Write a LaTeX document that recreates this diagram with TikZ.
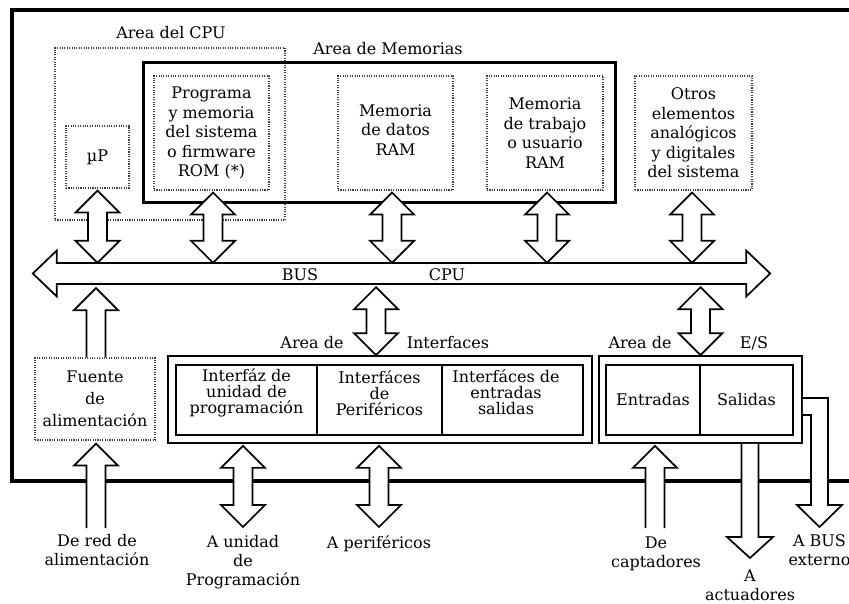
\documentclass[tikz,border=0pt]{standalone}
\usepackage{fontspec}
\setmainfont{DejaVu Serif}
\usetikzlibrary{calc}

% vertical block arrow with a head at both ends: #1 upper tip, #2 lower tip
\newcommand\vdarr[2]{\draw[blk] let \p1=#1, \p2=#2 in
  (\x1,\y1) -- (\x1+22pt,\y1-22pt) -- (\x1+9.5pt,\y1-22pt) -- (\x1+9.5pt,\y2+22pt)
  -- (\x1+22pt,\y2+22pt) -- (\x1,\y2) -- (\x1-22pt,\y2+22pt) -- (\x1-9.5pt,\y2+22pt)
  -- (\x1-9.5pt,\y1-22pt) -- (\x1-22pt,\y1-22pt) -- cycle;}
% upward block arrow: #1 tip, #2 open tail
\newcommand\uparr[2]{\draw[blk] let \p1=#1, \p2=#2 in
  (\x1-9.5pt,\y2) -- (\x1-9.5pt,\y1-22pt) -- (\x1-22pt,\y1-22pt) -- (\x1,\y1)
  -- (\x1+22pt,\y1-22pt) -- (\x1+9.5pt,\y1-22pt) -- (\x1+9.5pt,\y2);}
% downward block arrow: #1 open tail, #2 tip
\newcommand\dnarr[2]{\draw[blk] let \p1=#1, \p2=#2 in
  (\x2-8.5pt,\y1) -- (\x2-8.5pt,\y2+21pt) -- (\x2-23pt,\y2+21pt) -- (\x2,\y2)
  -- (\x2+23pt,\y2+21pt) -- (\x2+8.5pt,\y2+21pt) -- (\x2+8.5pt,\y1);}

\tikzset{
  every node/.style={font=\fontsize{16}{19.5}\selectfont},
  blk/.style={draw=black, line width=1.7pt, fill=white, line join=miter},
  dotbox/.style={draw=black!75, line width=1.1pt, dash pattern=on 1.1pt off 1.3pt,
    align=center, inner sep=0pt},
  cellbox/.style={draw=black, line width=1.7pt, align=center, inner sep=0pt},
  framebox/.style={draw=black, line width=1.7pt, inner sep=0pt},
  celltext/.style={align=center, inner sep=0pt, font=\fontsize{16}{16}\selectfont},
  lbl/.style={align=center, inner sep=0pt, font=\fontsize{16}{19}\selectfont},
}

\begin{document}
\begin{tikzpicture}[x=1pt,y=-1pt]
\useasboundingbox (0,0) rectangle (849,604);
\clip (0,0) rectangle (849,604);
\fill[white] (0,0) rectangle (849,604);

% outer frame of the system
\draw[line width=4pt] (12,10) rectangle (880,481);

% CPU area and memory area
\node[dotbox, minimum width=230pt, minimum height=172pt] (cpuarea) at (170,134) {};
\node (cpulbl) at (171,33) {Area del CPU};
\node[draw, line width=3pt, minimum width=472pt, minimum height=140pt, inner sep=0pt] (memarea) at (379,133) {};
\node (memlbl) at (388,49) {Area de Memorias};

% functional blocks
\node[dotbox, minimum width=63pt, minimum height=62pt] (mup) at (97.5,157) {µP};
\node[dotbox, minimum width=115pt, minimum height=114pt] (rom) at (211.5,133)
  {Programa\\y memoria\\del sistema\\o firmware\\ROM (*)};
\node[dotbox, minimum width=115pt, minimum height=114pt, text depth=6pt] (ramd) at (395.5,133)
  {Memoria\\de datos\\RAM};
\node[dotbox, minimum width=116pt, minimum height=114pt] (ramu) at (545,133)
  {Memoria\\de trabajo\\o usuario\\RAM};
\node[dotbox, minimum width=117pt, minimum height=114pt] (otros) at (693.5,133)
  {Otros\\elementos\\analógicos\\y digitales\\del sistema};

% system bus
\node[minimum width=737pt, minimum height=21pt, inner sep=0pt] (bus) at (401.5,273.5) {};
\draw[blk] let \p1=(bus.west), \p2=(bus.east) in
  (\x1,\y1) -- (\x1+24pt,\y1+23pt) -- (\x1+24pt,\y1+10.5pt) -- (\x2-24pt,\y2+10.5pt)
  -- (\x2-24pt,\y2+23pt) -- (\x2,\y2) -- (\x2-24pt,\y2-23pt) -- (\x2-24pt,\y2-10.5pt)
  -- (\x1+24pt,\y1-10.5pt) -- (\x1+24pt,\y1-23pt) -- cycle;
\node (buslbl) at (300,275) {BUS};
\node (cpulbl2) at (447,275) {CPU};

% links from the blocks to the bus
\vdarr{($(mup.south)+(0,2)$)}{(mup.south |- bus.north)}
\vdarr{($(rom.south)+(1.5,2)$)}{($(rom.south |- bus.north)+(1.5,0)$)}
\vdarr{($(ramd.south)+(-3.5,2)$)}{($(ramd.south |- bus.north)+(-3.5,0)$)}
\vdarr{($(ramu.south)+(2,2)$)}{($(ramu.south |- bus.north)+(2,0)$)}
\vdarr{($(otros.south)+(-1.5,2)$)}{($(otros.south |- bus.north)+(-1.5,0)$)}

% power supply
\node[dotbox, minimum width=120pt, minimum height=82pt, font=\fontsize{16}{22}\selectfont]
  (fuente) at (95,399) {Fuente\\de\\alimentación};
\uparr{($(fuente.north |- bus.south)+(1,4)$)}{($(fuente.north)+(1,0)$)}

% interface area
\node[framebox, minimum width=424pt, minimum height=87pt] (ifz) at (380,399.5) {};
\node[cellbox, minimum width=141pt, minimum height=70pt] (c1) at (246.5,400) {};
\node[cellbox, minimum width=125pt, minimum height=70pt] (c2) at (379.5,400) {};
\node[cellbox, minimum width=141pt, minimum height=70pt] (c3) at (512.5,400) {};
\node[celltext] (t1) at (246.5,393) {Interfáz de\\unidad de\\programación};
\node[celltext] (t2) at (379.5,393) {Interfáces\\de\\Periféricos};
\node[celltext] (t3) at (506,392) {Interfáces de\\entradas\\salidas};
\node (ifzlbl1) at (312,343) {Area de};
\node (ifzlbl2) at (448,343) {Interfaces};
\vdarr{($(bus.south -| ifz.north)+(-4,3)$)}{($(ifz.north)+(-4,0)$)}

% input/output area
\node[framebox, minimum width=203pt, minimum height=87pt] (es) at (700.5,399.5) {};
\node[cellbox, minimum width=94pt, minimum height=70pt] (ent) at (653,400) {Entradas};
\node[cellbox, minimum width=93pt, minimum height=70pt] (sal) at (746.5,400) {Salidas};
\node (eslbl1) at (640,343) {Area de};
\node (eslbl2) at (754,343) {E/S};
\vdarr{($(bus.south -| es.north)+(0,3)$)}{(es.north)}

% external connections
\node[lbl, anchor=north] (lred) at (97,534) {De red de\\alimentación};
\node[lbl, anchor=north] (lunid) at (243,535) {A unidad\\de\\Programación};
\node[lbl, anchor=north] (lper) at (379,535) {A periféricos};
\node[lbl, anchor=north] (lcap) at (656,537) {De\\captadores};
\node[lbl, anchor=north] (lact) at (750,570) {A\\actuadores};
\node[lbl, anchor=north] (lbus) at (819.5,534) {A BUS\\externo};

\uparr{($(fuente.south)+(1,3)$)}{($(lred.north)+(0,-6)$)}
\vdarr{($(lunid.north |- ifz.south)+(0,2)$)}{($(lunid.north)+(0,-8)$)}
\vdarr{($(lper.north |- ifz.south)+(0,2)$)}{($(lper.north)+(0,-8)$)}
\uparr{($(lcap.north |- es.south)+(-1,2)$)}{($(lcap.north)+(-1,-9)$)}
\dnarr{(lact.north |- es.south)}{($(lact.north)+(0,-12)$)}
\draw[blk] let \p1=(es.east), \p2=($(lbus.north)+(0,-7)$) in
  (\x1,\y1+1.5pt) -- (\x2+8.5pt,\y1+1.5pt) -- (\x2+8.5pt,\y2+22pt) -- (\x2+22.5pt,\y2+22pt)
  -- (\x2,\y2) -- (\x2-22.5pt,\y2+22pt) -- (\x2-8.5pt,\y2+22pt) -- (\x2-8.5pt,\y1-15.5pt)
  -- (\x1,\y1-15.5pt);
\end{tikzpicture}
\end{document}
